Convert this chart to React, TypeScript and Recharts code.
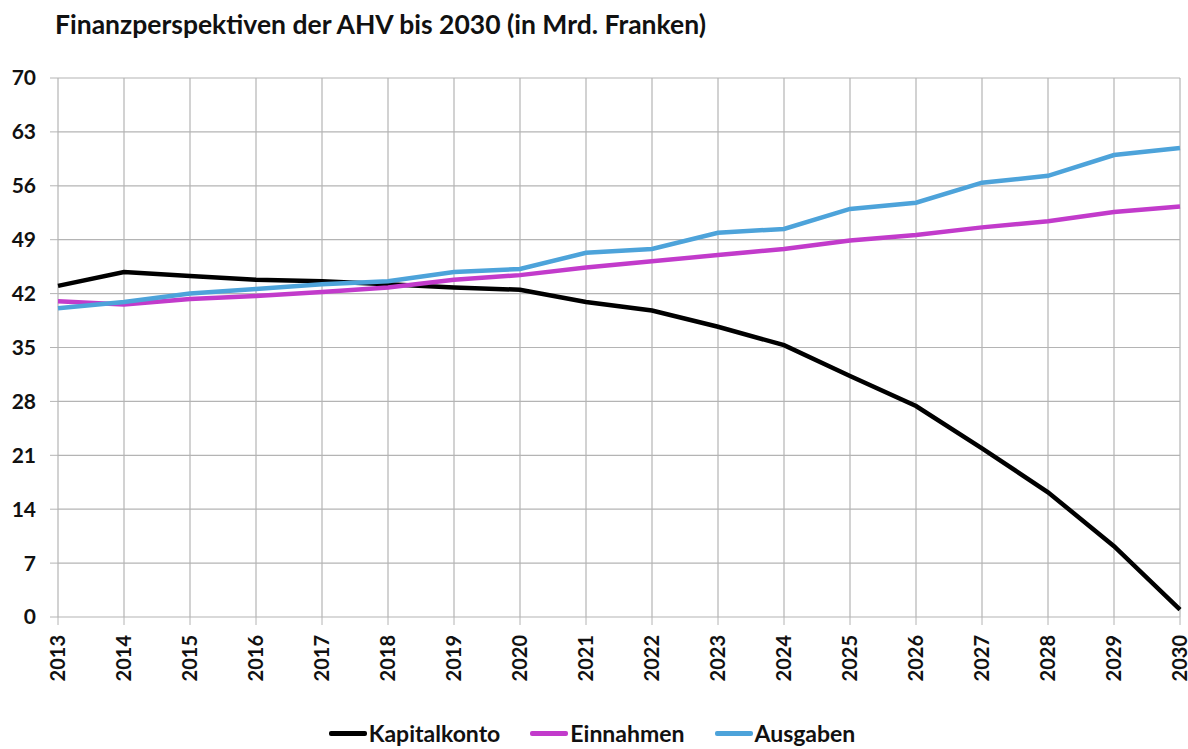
import { LineChart, Line, XAxis, YAxis, CartesianGrid, Legend } from 'recharts';

const FONT = 'Lato, "Open Sans", sans-serif';
const GRID = '#b4b4b4';
const BLACK = '#000000';
const MAGENTA = '#c23bcb';
const BLUE = '#4da3da';

const years = ['2013', '2014', '2015', '2016', '2017', '2018', '2019', '2020', '2021',
  '2022', '2023', '2024', '2025', '2026', '2027', '2028', '2029', '2030'];
const kapitalkonto = [43.0, 44.8, 44.3, 43.8, 43.6, 43.2, 42.8, 42.5, 40.9,
  39.8, 37.7, 35.3, 31.3, 27.4, 21.9, 16.2, 9.2, 0.95];
const einnahmen = [41.0, 40.6, 41.3, 41.7, 42.2, 42.8, 43.8, 44.4, 45.4,
  46.2, 47.0, 47.8, 48.9, 49.6, 50.6, 51.4, 52.6, 53.3];
const ausgaben = [40.1, 40.9, 42.0, 42.6, 43.2, 43.6, 44.8, 45.2, 47.3,
  47.8, 49.9, 50.4, 53.0, 53.8, 56.4, 57.3, 60.0, 60.9];
const yTicks = [0, 7, 14, 21, 28, 35, 42, 49, 56, 63, 70];

const series = [
  { key: 'kapitalkonto', name: 'Kapitalkonto', color: BLACK },
  { key: 'einnahmen', name: 'Einnahmen', color: MAGENTA },
  { key: 'ausgaben', name: 'Ausgaben', color: BLUE },
];

const data = years.map((year, i) => ({
  year,
  kapitalkonto: kapitalkonto[i],
  einnahmen: einnahmen[i],
  ausgaben: ausgaben[i],
}));

// year labels read bottom-to-top
function YearTick({ x, y, payload }: any) {
  const ty = y + 8;
  return (
    <text
      x={x}
      y={ty}
      transform={`rotate(-90, ${x}, ${ty})`}
      textAnchor="end"
      dy="0.34em"
      fontSize={20}
      fontWeight={700}
      fontFamily={FONT}
      fill="#111"
    >
      {payload.value}
    </text>
  );
}

function LegendContent() {
  return (
    <div style={{ display: 'flex', justifyContent: 'center', alignItems: 'center', boxSizing: 'border-box', height: 40, paddingTop: 8, fontFamily: FONT, paddingLeft: 34 }}>
      {series.map((s) => (
        <div key={s.key} style={{ display: 'flex', alignItems: 'center', marginRight: 30 }}>
          <span style={{ display: 'inline-block', width: 38, height: 5, background: s.color, borderRadius: 2, marginRight: 2 }} />
          <span style={{ fontSize: 23, fontWeight: 700, color: '#111', lineHeight: '28px' }}>{s.name}</span>
        </div>
      ))}
    </div>
  );
}

export default function App() {
  return (
    <div style={{ position: 'absolute', left: 0, top: 0, width: 1188, height: 749, background: '#fff', fontFamily: FONT }}>
      <div style={{ position: 'absolute', left: 55, top: 8, fontSize: 26.5, fontWeight: 700, color: '#111', whiteSpace: 'nowrap' }}>
        Finanzperspektiven der AHV bis 2030 (in Mrd. Franken)
      </div>
      <LineChart width={1188} height={749} data={data} margin={{ top: 78, right: 8, left: 0, bottom: 0 }}>
        <CartesianGrid stroke={GRID} strokeWidth={1.2} />
        <XAxis
          dataKey="year"
          height={92}
          interval={0}
          axisLine={false}
          tickLine={{ stroke: GRID }}
          tickSize={8}
          tick={<YearTick />}
        />
        <YAxis
          width={58}
          domain={[0, 70]}
          ticks={yTicks}
          interval={0}
          axisLine={false}
          tickLine={{ stroke: GRID }}
          tickSize={8}
          tickMargin={14}
          tick={{ fontSize: 21, fontWeight: 700, fill: '#111', fontFamily: FONT }}
        />
        <Legend verticalAlign="bottom" height={40} content={<LegendContent />} />
        {series.map((s) => (
          <Line
            key={s.key}
            type="linear"
            dataKey={s.key}
            name={s.name}
            stroke={s.color}
            strokeWidth={4.5}
            dot={false}
            activeDot={false}
            isAnimationActive={false}
          />
        ))}
      </LineChart>
    </div>
  );
}
